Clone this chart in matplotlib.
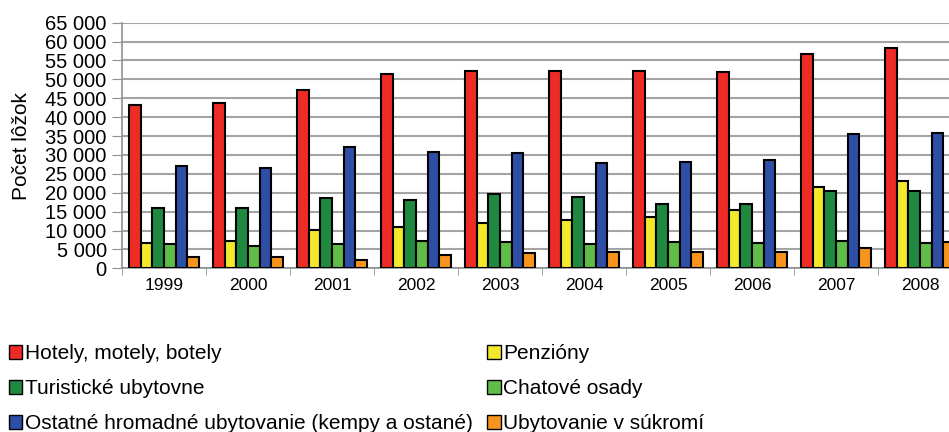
import matplotlib.pyplot as plt
from matplotlib.patches import Patch
from matplotlib.ticker import FuncFormatter, MultipleLocator
import numpy as np

plt.rcParams.update({
    "font.family": ["Liberation Sans", "DejaVu Sans"],
    "figure.facecolor": "white",
    "axes.facecolor": "white",
})

roky = ["1999", "2000", "2001", "2002", "2003", "2004", "2005", "2006", "2007", "2008"]

hotely = [43200, 43700, 47200, 51400, 52300, 52300, 52300, 51900, 56600, 58200]
penziony = [6800, 7200, 10200, 11000, 12100, 12700, 13700, 15400, 21600, 23000]
turisticke = [15900, 15900, 18500, 18100, 19700, 18900, 17100, 17100, 20500, 20500]
chatove = [6500, 5900, 6500, 7300, 7000, 6400, 6900, 6800, 7300, 6800]
ostatne = [27100, 26600, 32100, 30900, 30500, 27800, 28200, 28700, 35500, 35900]
sukromie = [3000, 3000, 2200, 3400, 4000, 4300, 4200, 4200, 5400, 6900]

nazvy = [
    "Hotely, motely, botely",
    "Penzióny",
    "Turistické ubytovne",
    "Chatové osady",
    "Ostatné hromadné ubytovanie (kempy a ostané)",
    "Ubytovanie v súkromí",
]
farby = ["#ee2b25", "#f2e82c", "#1f8a3f", "#5fbd48", "#2f4fa6", "#f7941e"]
serie = [hotely, penziony, turisticke, chatove, ostatne, sukromie]

fig = plt.figure(figsize=(9.49, 4.32), dpi=100)
# os presahuje pravý okraj obrázka (ako v predlohe)
ax = fig.add_axes([122 / 949, 163.7 / 432, 840 / 949, 245.6 / 432])

x = np.arange(len(roky))
sirka = 0.137
for i, (hodnoty, farba) in enumerate(zip(serie, farby)):
    ax.bar(x + (i - 2.5) * sirka, hodnoty, width=sirka, color=farba,
           edgecolor="black", linewidth=1.5, zorder=3)

ax.set_xlim(-0.5, len(roky) - 0.5)
ax.set_ylim(0, 65000)
ax.yaxis.set_major_locator(MultipleLocator(5000))
ax.yaxis.set_major_formatter(FuncFormatter(lambda v, _: f"{v:,.0f}".replace(",", " ")))
ax.grid(axis="y", color="#a4a4a4", linewidth=1.5, zorder=0)

ax.set_xticks(x)
ax.set_xticklabels(roky)
ax.set_xticks(np.arange(-0.5, len(roky)), minor=True)
ax.tick_params(axis="x", which="major", length=0, pad=7, labelsize=12.5)
ax.tick_params(axis="x", which="minor", length=5, color="#909090")
ax.tick_params(axis="y", length=7, color="#909090", labelsize=14.5, pad=4)

for s in ["top", "right"]:
    ax.spines[s].set_visible(False)
for s in ["left", "bottom"]:
    ax.spines[s].set_color("#909090")
    ax.spines[s].set_linewidth(1.2)

ax.set_ylabel("Počet lôžok", fontsize=15)
ax.yaxis.set_label_coords(-0.108, 0.5)

handles = [Patch(facecolor=f, edgecolor="black", linewidth=1.0) for f in farby]
poradie = [0, 2, 4, 1, 3, 5]
fig.legend([handles[i] for i in poradie], [nazvy[i] for i in poradie],
           ncol=2, loc="upper left", bbox_to_anchor=(0.009, 0.203),
           frameon=False, fontsize=15, handlelength=0.65, handleheight=0.65,
           handletextpad=0.12, columnspacing=0.7, labelspacing=0.76,
           borderaxespad=0, borderpad=0)

fig.savefig("out.png", dpi=100)
